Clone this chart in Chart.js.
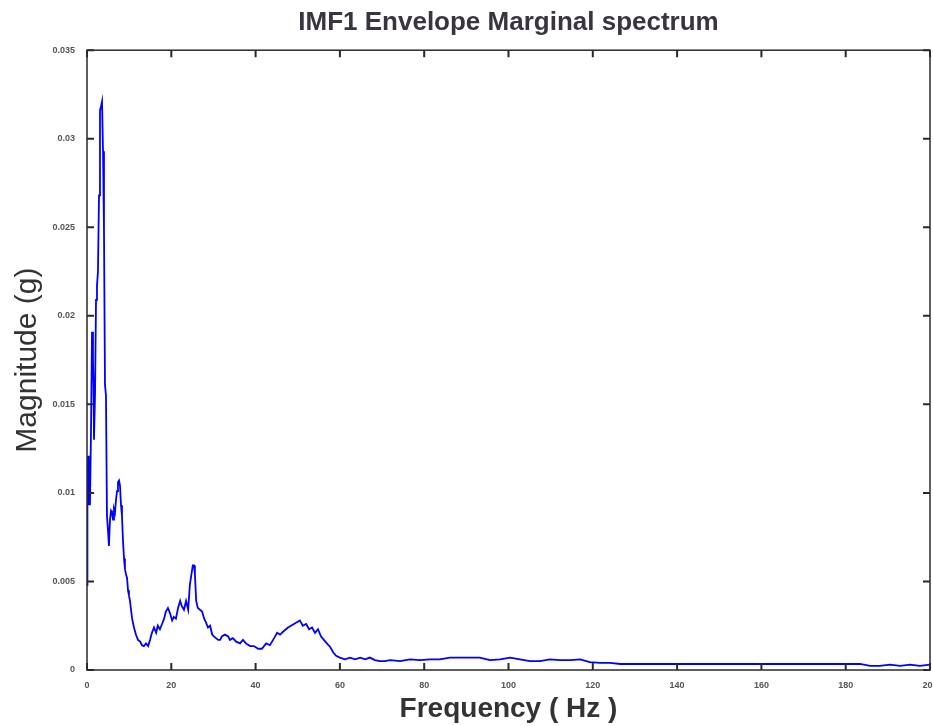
<!DOCTYPE html>
<html>
<head>
<meta charset="utf-8">
<title>IMF1 Envelope Marginal spectrum</title>
<script src="https://cdn.jsdelivr.net/npm/chart.js@4.4.1/dist/chart.umd.min.js"></script>
<style>
    html, body { margin: 0; padding: 0; background: #ffffff; }
    #wrap { width: 933px; height: 726px; position: relative; }
</style>
</head>
<body>
<div id="wrap"><canvas id="spectrumChart"></canvas></div>
<script>
// ============================================
// IMF1 envelope marginal spectrum
// ============================================

// Frequency (Hz) of each sample
const freqHz = [
    0, 0.1, 0.24, 0.36, 0.47, 0.7, 0.95, 1.19, 1.42, 1.54, 1.66, 1.9, 2.14, 2.37, 2.6, 2.85,
    3.08, 3.3, 3.56, 3.8, 4.03, 4.27, 4.5, 4.74, 4.98, 5.2, 5.46, 5.7, 5.93, 6.17, 6.4, 6.64,
    6.88, 7.12, 7.35, 7.6, 7.83, 8.07, 8.3, 8.54, 8.78, 9.0, 9.25, 9.5, 9.73, 9.96, 10.2, 10.4,
    10.7, 11.15, 11.6, 12.1, 12.6, 13.05, 13.5, 14.0, 14.5, 14.95, 15.4, 15.9, 16.4, 16.8, 17.3,
    17.8, 18.3, 18.7, 19.2, 19.7, 20.2, 20.6, 21.1, 21.6, 22.1, 22.5, 23.0, 23.5, 24.0, 24.4,
    24.9, 25.1, 25.4, 25.6, 25.9, 26.3, 26.8, 27.3, 27.8, 28.2, 28.7, 29.2, 29.7, 30.1, 30.6,
    31.1, 31.6, 32.0, 32.7, 33.5, 33.9, 34.6, 35.4, 36.3, 37.0, 37.7, 38.7, 39.6, 40.6, 41.5,
    42.5, 43.4, 44.4, 45.1, 45.8, 46.7, 47.7, 48.4, 49.1, 49.8, 50.5, 51.2, 52.0, 52.7, 53.4,
    54.1, 54.8, 55.5, 56.2, 56.9, 57.7, 58.4, 59.1, 60.0, 61.2, 62.4, 63.6, 64.8, 66.0, 67.1,
    68.3, 69.5, 70.7, 71.9, 74.3, 76.6, 79.0, 81.4, 83.7, 86.1, 88.5, 90.9, 93.2, 95.6, 98.0,
    100.4, 102.7, 105.1, 107.5, 109.8, 112.2, 114.6, 117.0, 119.3, 121.7, 124.1, 126.5, 131.2,
    135.9, 140.7, 145.4, 150.2, 154.9, 159.7, 164.4, 169.2, 173.9, 178.6, 183.4, 185.8, 188.1,
    190.5, 192.9, 195.3, 197.6, 200
];

// Magnitude (g) at each frequency above
const magnitude = [
    0.0048, 0.0096, 0.0121, 0.0093, 0.0113, 0.0093, 0.0135, 0.0191, 0.0175, 0.0161, 0.0130, 0.0155,
    0.0209, 0.0217, 0.0225, 0.0268, 0.0316, 0.0318, 0.0321, 0.0293, 0.0248, 0.0161, 0.0155, 0.0087,
    0.0079, 0.0070, 0.0085, 0.0090, 0.0089, 0.0085, 0.0091, 0.0089, 0.0096, 0.0101, 0.0106, 0.0107,
    0.0104, 0.0093, 0.0087, 0.0073, 0.0063, 0.0057, 0.0054, 0.0052, 0.0045, 0.0042, 0.0039, 0.0035,
    0.0029, 0.0024, 0.0020, 0.0017, 0.0016, 0.0014, 0.00135, 0.0015, 0.00135, 0.0017, 0.0021, 0.0024,
    0.0021, 0.0025, 0.0023, 0.0026, 0.0029, 0.0033, 0.0035, 0.0032, 0.0028, 0.0030, 0.0029, 0.0035,
    0.0039, 0.0036, 0.0034, 0.0039, 0.0034, 0.0048, 0.0056, 0.0059, 0.0059, 0.0054, 0.0039, 0.0035,
    0.0034, 0.0033, 0.0029, 0.0027, 0.0024, 0.0025, 0.0020, 0.0019, 0.0018, 0.0017, 0.0017, 0.0019,
    0.0020, 0.0019, 0.0017, 0.0018, 0.0016, 0.0015, 0.0017, 0.0015, 0.00135, 0.00135, 0.0012, 0.0012,
    0.0015, 0.0014, 0.0018, 0.0021, 0.0020, 0.0022, 0.0024, 0.0025, 0.0026, 0.0027, 0.0028, 0.0025,
    0.0026, 0.0023, 0.0024, 0.0021, 0.0023, 0.0019, 0.0017, 0.0015, 0.0013, 0.0010, 0.0008, 0.0007,
    0.0006, 0.0007, 0.0006, 0.0007, 0.0006, 0.0007, 0.00056, 0.0005, 0.0005, 0.00056, 0.0005, 0.0006,
    0.00056, 0.0006, 0.0006, 0.0007, 0.0007, 0.0007, 0.0007, 0.00056, 0.0006, 0.0007, 0.0006, 0.0005,
    0.0005, 0.0006, 0.00056, 0.00056, 0.0006, 0.00045, 0.0004, 0.0004, 0.00034, 0.00034, 0.00034,
    0.00034, 0.00034, 0.00034, 0.00034, 0.00034, 0.00034, 0.00034, 0.00034, 0.00034, 0.00034,
    0.00023, 0.00023, 0.0003, 0.00023, 0.0003, 0.00023, 0.0003
];

// Axis tick values
const xTicks = [0, 20, 40, 60, 80, 100, 120, 140, 160, 180, 200];
const yTicks = [0, 0.005, 0.01, 0.015, 0.02, 0.025, 0.03, 0.035];

const points = freqHz.map((f, i) => ({ x: f, y: magnitude[i] }));

// Box round the plot area plus inward tick marks (matlab style)
const frameTicks = {
    id: 'frameTicks',
    afterDatasetsDraw(chart) {
        const { ctx, chartArea: a, scales } = chart;
        ctx.save();
        ctx.strokeStyle = '#2a2a2a';
        ctx.lineWidth = 1.5;
        ctx.strokeRect(a.left, a.top, a.right - a.left, a.bottom - a.top);
        ctx.lineWidth = 2;
        const len = 7;
        ctx.beginPath();
        xTicks.forEach(v => {
            const px = scales.x.getPixelForValue(v);
            ctx.moveTo(px, a.bottom); ctx.lineTo(px, a.bottom - len);
            ctx.moveTo(px, a.top); ctx.lineTo(px, a.top + len);
        });
        yTicks.forEach(v => {
            const py = scales.y.getPixelForValue(v);
            ctx.moveTo(a.left, py); ctx.lineTo(a.left + len, py);
            ctx.moveTo(a.right, py); ctx.lineTo(a.right - len, py);
        });
        ctx.stroke();
        ctx.restore();
    }
};

const ctx = document.getElementById('spectrumChart');

new Chart(ctx, {
    type: 'line',
    data: {
        datasets: [{
            label: 'IMF1',
            data: points,
            borderColor: '#0000ff',
            borderWidth: 1.8,
            pointRadius: 0,
            fill: false,
            tension: 0
        }]
    },
    options: {
        responsive: true,
        maintainAspectRatio: false,
        animation: false,
        layout: {
            padding: { left: 0, right: 3, top: 0, bottom: 0 }
        },
        plugins: {
            legend: { display: false },
            tooltip: { enabled: false },
            title: {
                display: true,
                fullSize: false,
                text: 'IMF1 Envelope Marginal spectrum',
                color: '#3a3440',
                font: { family: 'Liberation Sans', size: 26, weight: 'bold' },
                padding: { top: 7, bottom: 12 }
            }
        },
        scales: {
            x: {
                type: 'linear',
                min: 0,
                max: 200,
                afterBuildTicks: scale => { scale.ticks = xTicks.map(v => ({ value: v })); },
                afterFit: scale => { scale.height = 56; scale.paddingRight = 0; scale.paddingLeft = 0; },
                grid: { display: false },
                border: { display: false },
                ticks: {
                    color: '#555555',
                    font: { family: 'Liberation Sans', size: 9, weight: 'bold' },
                    padding: 2,
                    maxRotation: 0
                },
                title: {
                    display: true,
                    text: 'Frequency ( Hz )',
                    color: '#333333',
                    font: { family: 'Liberation Sans', size: 28, weight: 'bold' },
                    padding: { top: 4, bottom: 0 }
                }
            },
            y: {
                min: 0,
                max: 0.035,
                afterBuildTicks: scale => { scale.ticks = yTicks.map(v => ({ value: v })); },
                afterFit: scale => { scale.width = 87; },
                grid: { display: false },
                border: { display: false },
                ticks: {
                    color: '#555555',
                    font: { family: 'Liberation Sans', size: 9, weight: 'bold' },
                    padding: 4,
                    callback: value => String(value)
                },
                title: {
                    display: true,
                    text: 'Magnitude (g)',
                    color: '#333333',
                    font: { family: 'Liberation Sans', size: 30 },
                    padding: { top: 10, bottom: 4 }
                }
            }
        }
    },
    plugins: [frameTicks]
});
</script>
</body>
</html>
